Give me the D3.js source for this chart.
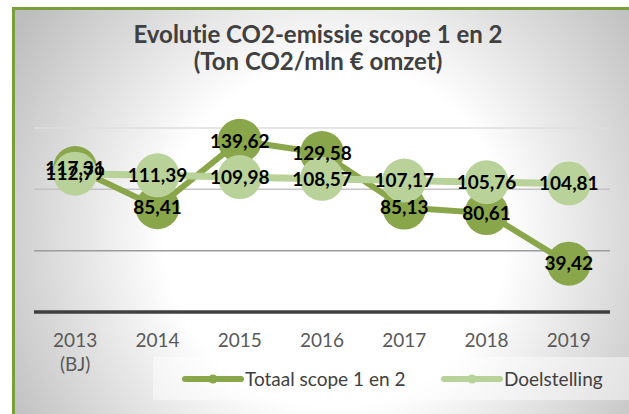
<!DOCTYPE html>
<html>
<head>
<meta charset="utf-8">
<script src="https://cdn.jsdelivr.net/npm/d3@7"></script>
<style>
  body { margin: 0; background: #ffffff; }
  svg { display: block; font-family: Lato, "Open Sans", sans-serif; font-variant-ligatures: none; }
</style>
</head>
<body>
<svg id="chart" width="629" height="414"></svg>
<script>
// Data
var years = ["2013", "2014", "2015", "2016", "2017", "2018", "2019"];
var totaal = [117.31, 85.41, 139.62, 129.58, 85.13, 80.61, 39.42];
var doelstelling = [112.79, 111.39, 109.98, 108.57, 107.17, 105.76, 104.81];
var yTicks = [0, 50, 100, 150];

var svg = d3.select("#chart");
var fmt = function (v) { return d3.format(".2f")(v).replace(".", ","); };

// Background gradient (white centre, gray edges)
var defs = svg.append("defs");
var grad = defs.append("radialGradient")
    .attr("id", "bg")
    .attr("gradientUnits", "userSpaceOnUse")
    .attr("cx", 335).attr("cy", 235).attr("r", 380);
grad.append("stop").attr("offset", "0%").attr("stop-color", "#ffffff");
grad.append("stop").attr("offset", "45%").attr("stop-color", "#ffffff");
grad.append("stop").attr("offset", "100%").attr("stop-color", "#bdbdbd");

svg.append("rect")
    .attr("x", 13.5).attr("y", 8.5)
    .attr("width", 640).attr("height", 420)
    .style("fill", "url(#bg)")
    .style("stroke", "#77a03a")
    .style("stroke-width", 3);

// Title
var title = svg.append("text")
    .attr("text-anchor", "middle")
    .style("font-weight", "bold")
    .style("font-size", "24px")
    .style("fill", "#404040");
title.append("tspan").attr("x", 318).attr("y", 43).text("Evolutie CO2-emissie scope 1 en 2");
title.append("tspan").attr("x", 318).attr("y", 70).text("(Ton CO2/mln € omzet)");

// Scales
var x = d3.scalePoint().domain(years).range([34, 610]).padding(0.5);
var y = d3.scaleLinear().domain([0, 150]).range([312, 128]);

// Gridlines
var gridColors = ["#404040", "#9c9c9c", "#c4c4c4", "#dedede"];
svg.append("g")
    .selectAll("line")
    .data(yTicks)
    .join("line")
    .attr("x1", 34).attr("x2", 610)
    .attr("y1", function (d) { return y(d); })
    .attr("y2", function (d) { return y(d); })
    .style("stroke", function (d, i) { return gridColors[i]; })
    .style("stroke-width", function (d, i) { return i === 0 ? 3.5 : 1.5; });

// X axis labels
svg.append("g")
    .selectAll("text")
    .data(years)
    .join("text")
    .attr("x", function (d) { return x(d); })
    .attr("y", 347)
    .attr("text-anchor", "middle")
    .style("font-size", "19px")
    .style("fill", "#595959")
    .text(function (d) { return d; });
svg.append("text")
    .attr("x", x("2013"))
    .attr("y", 371)
    .attr("text-anchor", "middle")
    .style("font-size", "19px")
    .style("fill", "#595959")
    .text("(BJ)");

// Series
var series = [
    {name: "Totaal scope 1 en 2", values: totaal, color: "#8aa64b", width: 6},
    {name: "Doelstelling", values: doelstelling, color: "#b9d29a", width: 7}
];

var line = d3.line()
    .x(function (d, i) { return x(years[i]); })
    .y(function (d) { return y(d); });

series.forEach(function (s) {
    var g = svg.append("g");
    g.append("path")
        .attr("d", line(s.values))
        .style("fill", "none")
        .style("stroke", s.color)
        .style("stroke-width", s.width);
    g.selectAll("circle")
        .data(s.values)
        .join("circle")
        .attr("cx", function (d, i) { return x(years[i]); })
        .attr("cy", function (d) { return y(d); })
        .attr("r", 22)
        .style("fill", s.color);
});

// Data labels on top
series.forEach(function (s) {
    svg.append("g")
        .selectAll("text")
        .data(s.values)
        .join("text")
        .attr("x", function (d, i) { return x(years[i]); })
        .attr("y", function (d) { return y(d); })
        .attr("dy", "0.36em")
        .attr("text-anchor", "middle")
        .style("font-size", "19px")
        .style("font-weight", "bold")
        .style("fill", "#000000")
        .text(fmt);
});

// Legend
svg.append("rect")
    .attr("x", 153).attr("y", 357)
    .attr("width", 480).attr("height", 43)
    .style("fill", "#ffffff")
    .style("fill-opacity", 0.45);

var legendX = [185, 444];
series.forEach(function (s, i) {
    var lg = svg.append("g").attr("transform", "translate(" + legendX[i] + ",379)");
    lg.append("line")
        .attr("x1", 0).attr("x2", 56)
        .style("stroke", s.color)
        .style("stroke-width", 6)
        .style("stroke-linecap", "round");
    lg.append("circle")
        .attr("cx", 28).attr("r", 4.5)
        .style("fill", s.color);
    lg.append("text")
        .attr("x", 60).attr("y", 7)
        .style("font-size", "19px")
        .style("fill", "#404040")
        .text(s.name);
});
</script>
</body>
</html>
